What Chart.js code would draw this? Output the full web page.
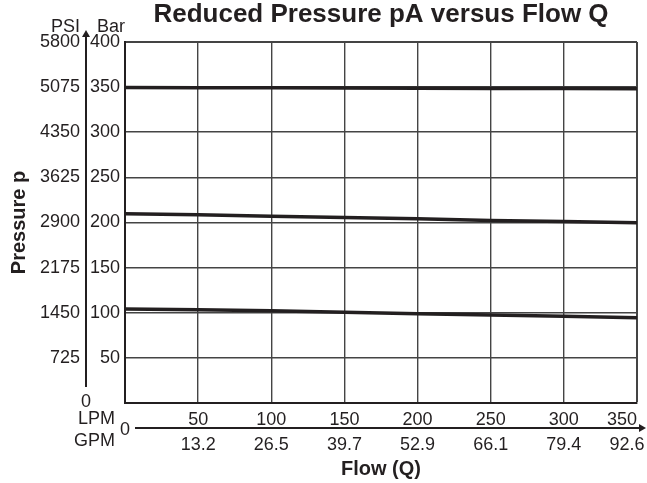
<!DOCTYPE html>
<html>
<head>
<meta charset="utf-8">
<script src="https://cdn.jsdelivr.net/npm/chart.js@4.4.0/dist/chart.umd.min.js"></script>
<style>
body { margin: 0; background: #fff; }
#wrap { width: 647px; height: 483px; }
</style>
</head>
<body>
<div id="wrap"><canvas id="pressureChart"></canvas></div>
<script>
// flow in LPM, pressure in bar
var lpm = [0, 50, 100, 150, 200, 250, 300, 350];
var gpmLabels = ['', '13.2', '26.5', '39.7', '52.9', '66.1', '79.4', '92.6'];
var psiLabels = ['', '725', '1450', '2175', '2900', '3625', '4350', '5075', '5800'];
var pressureHigh = [349.5, 349.3, 349.1, 348.9, 348.7, 348.5, 348.3, 348.0];
var pressureMid = [209.5, 208.4, 207.0, 205.4, 204.0, 202.1, 201.0, 199.6];
var pressureLow = [104.1, 103.3, 102.2, 100.4, 98.9, 97.5, 96.0, 94.5];

var ink = '#231f20';
var gridColor = '#444';
var fontFamily = '"Liberation Sans", Arial, Helvetica, sans-serif';

Chart.defaults.font.family = fontFamily;
Chart.defaults.color = ink;

function points(vals) {
    return lpm.map(function (x, i) { return { x: x, y: vals[i] }; });
}

function curve(vals) {
    return {
        data: points(vals),
        xAxisID: 'x',
        yAxisID: 'y',
        borderColor: ink,
        borderWidth: 3.5,
        pointRadius: 0,
        tension: 0,
        fill: false
    };
}

// the last label is pushed left so it stays inside the frame
function padLast(label, index, count, spaces) {
    if (index === count - 1) return label + ' '.repeat(spaces);
    return label;
}

var axisArrows = {
    id: 'axisArrows',
    afterDraw: function (chart) {
        var ctx = chart.ctx;
        var area = chart.chartArea;
        var xs = chart.scales.x;
        var ax = chart.scales.psi.right - 2;
        var ay = xs.bottom - 1;
        ctx.save();
        ctx.strokeStyle = ink;
        ctx.fillStyle = ink;
        ctx.lineWidth = 2;

        // pressure arrow
        ctx.beginPath();
        ctx.moveTo(ax, area.bottom - 16);
        ctx.lineTo(ax, area.top - 6);
        ctx.stroke();
        ctx.beginPath();
        ctx.moveTo(ax, area.top - 12);
        ctx.lineTo(ax - 4, area.top - 5);
        ctx.lineTo(ax + 4, area.top - 5);
        ctx.closePath();
        ctx.fill();

        ctx.font = '18px ' + fontFamily;
        ctx.textBaseline = 'alphabetic';
        ctx.textAlign = 'right';
        ctx.fillText('PSI', ax - 6, area.top - 10);
        ctx.textAlign = 'left';
        ctx.fillText('Bar', ax + 11, area.top - 10);
        ctx.textAlign = 'center';
        ctx.textBaseline = 'middle';
        ctx.fillText('0', ax, area.bottom - 1);

        // flow arrow
        ctx.beginPath();
        ctx.moveTo(area.left + 10, ay);
        ctx.lineTo(chart.width - 5, ay);
        ctx.stroke();
        ctx.beginPath();
        ctx.moveTo(chart.width - 1, ay);
        ctx.lineTo(chart.width - 8, ay - 4);
        ctx.lineTo(chart.width - 8, ay + 4);
        ctx.closePath();
        ctx.fill();

        ctx.fillText('0', area.left, ay + 2);
        ctx.textAlign = 'right';
        ctx.fillText('LPM', area.left - 10, xs.top + 16.5);
        ctx.fillText('GPM', area.left - 10, ay + 13);
        ctx.restore();
    }
};

var ctx = document.getElementById('pressureChart').getContext('2d');
var myChart = new Chart(ctx, {
    type: 'line',
    data: {
        datasets: [curve(pressureHigh), curve(pressureMid), curve(pressureLow)]
    },
    options: {
        responsive: true,
        maintainAspectRatio: false,
        animation: false,
        layout: { padding: { left: 0, right: 10, top: 0, bottom: 0 } },
        plugins: {
            legend: { display: false },
            tooltip: { enabled: false },
            title: {
                display: true,
                text: 'Reduced Pressure pA versus Flow Q',
                fullSize: false,
                color: ink,
                font: { size: 26, weight: 'bold', lineHeight: 1.15 },
                padding: { top: 0, bottom: 12 }
            }
        },
        scales: {
            x: {
                type: 'linear',
                position: 'bottom',
                min: 0,
                max: 350,
                ticks: {
                    stepSize: 50,
                    autoSkip: false,
                    maxRotation: 0,
                    minRotation: 0,
                    padding: 6,
                    color: ink,
                    font: { size: 18 },
                    callback: function (v, i, t) {
                        return v === 0 ? '' : padLast(String(v), i, t.length, 6);
                    }
                },
                grid: {
                    color: gridColor,
                    lineWidth: function (c) { return c.tick && c.tick.value === 350 ? 2 : 1.4; },
                    drawTicks: false
                },
                border: { color: ink, width: 2 },
                afterFit: function (s) { s.height = 26; s.paddingLeft = 0; s.paddingRight = 0; }
            },
            x2: {
                type: 'linear',
                position: 'bottom',
                weight: 1,
                min: 0,
                max: 350,
                ticks: {
                    stepSize: 50,
                    autoSkip: false,
                    maxRotation: 0,
                    minRotation: 0,
                    padding: 5,
                    color: ink,
                    font: { size: 18 },
                    callback: function (v, i, t) { return padLast(gpmLabels[i], i, t.length, 4); }
                },
                grid: { display: false, drawTicks: false },
                border: { display: false },
                title: {
                    display: true,
                    text: 'Flow (Q)',
                    color: ink,
                    font: { size: 20, weight: 'bold' },
                    padding: { top: 0, bottom: 2 }
                },
                afterFit: function (s) { s.height = 54; s.paddingLeft = 0; s.paddingRight = 0; }
            },
            y: {
                type: 'linear',
                position: 'left',
                min: 0,
                max: 400,
                ticks: {
                    stepSize: 50,
                    padding: 5,
                    color: ink,
                    font: { size: 18 },
                    callback: function (v) { return v === 0 ? '' : v; }
                },
                grid: {
                    color: gridColor,
                    lineWidth: function (c) { return c.tick && c.tick.value === 400 ? 2 : 1.4; },
                    drawTicks: false
                },
                border: { color: ink, width: 2 },
                afterFit: function (s) { s.width = 37; s.paddingTop = 0; s.paddingBottom = 0; }
            },
            psi: {
                type: 'linear',
                position: 'left',
                weight: 1,
                min: 0,
                max: 400,
                ticks: {
                    stepSize: 50,
                    padding: 8,
                    color: ink,
                    font: { size: 18 },
                    callback: function (v, i) { return psiLabels[i]; }
                },
                grid: { display: false, drawTicks: false },
                border: { display: false },
                title: {
                    display: true,
                    text: 'Pressure p',
                    color: ink,
                    font: { size: 20, weight: 'bold' },
                    padding: { top: 7 }
                },
                afterFit: function (s) { s.width = 88; s.paddingTop = 0; s.paddingBottom = 0; }
            }
        }
    },
    plugins: [axisArrows]
});
</script>
</body>
</html>
